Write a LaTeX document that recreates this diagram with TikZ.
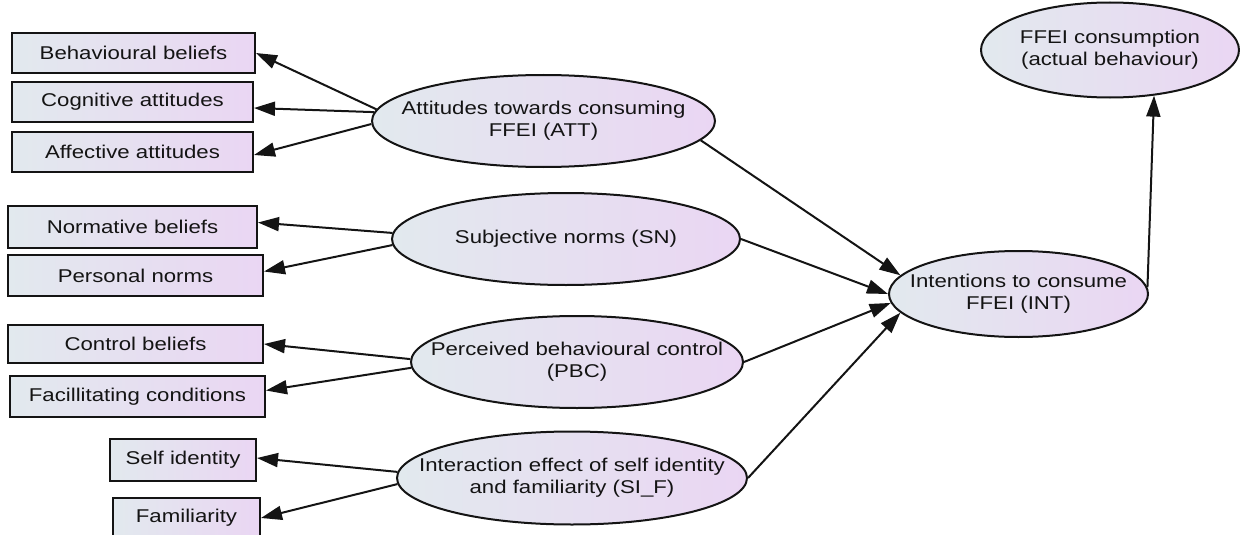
\documentclass[tikz,border=0pt]{standalone}
\usepackage{fontspec}
\setmainfont[FakeStretch=1.2]{Liberation Sans}
\usetikzlibrary{shapes.geometric,arrows.meta}
\definecolor{shadel}{RGB}{226,233,238}
\definecolor{shader}{RGB}{234,214,243}
\definecolor{ink}{RGB}{20,20,20}
\begin{document}
\begin{tikzpicture}[x=1pt,y=-1pt,
  box/.style={draw=ink,line width=2pt,left color=shadel,right color=shader,inner sep=0pt,
    font=\fontsize{18.5}{22}\selectfont,text=ink},
  latent/.style={ellipse,draw=ink,line width=2pt,left color=shadel,right color=shader,inner sep=0pt},
  lbl/.style={align=center,font=\fontsize{18.5}{22}\selectfont,text=ink},
  link/.style={draw=ink,line width=2pt,-{Triangle[length=21pt,width=14pt]}}]
\path[use as bounding box] (0,0) rectangle (1240,535);
\clip (0,0) rectangle (1240,535);
% indicators
\node[box,minimum width=243pt,minimum height=40pt] (bb) at (133.5,53) {Behavioural beliefs};
\node[box,minimum width=241pt,minimum height=40pt] (ca) at (132.5,102) {Cognitive attitudes};
\node[box,minimum width=241pt,minimum height=40pt] (aa) at (132.5,152) {Affective attitudes};
\node[box,minimum width=249pt,minimum height=42pt] (nb) at (132.5,226.5) {Normative beliefs};
\node[box,minimum width=255pt,minimum height=41pt] (pn) at (135.5,275.5) {Personal norms};
\node[box,minimum width=255pt,minimum height=38pt] (cb) at (135.5,344) {Control beliefs};
\node[box,minimum width=255pt,minimum height=41pt] (fc) at (137.5,396.5) {Facillitating conditions};
\node[box,minimum width=146pt,minimum height=42pt] (sid) at (183,460) {Self identity};
\node[box,minimum width=147pt,minimum height=40pt] (fam) at (186.5,518) {Familiarity};
% constructs
\node[latent,minimum width=343pt,minimum height=92pt,
  label={[lbl]center:Attitudes towards consuming\\FFEI (ATT)}] (att) at (543.5,121) {};
\node[latent,minimum width=348pt,minimum height=92pt,
  label={[lbl]center:Subjective norms (SN)}] (sn) at (566,239) {};
\node[latent,minimum width=332pt,minimum height=92pt,
  label={[lbl]center:Perceived behavioural control\\(PBC)}] (pbc) at (577,362) {};
\node[latent,minimum width=350pt,minimum height=93pt,
  label={[lbl]center:Interaction effect of self identity\\and familiarity (SI\_F)}] (sif) at (572,478) {};
\node[latent,minimum width=259pt,minimum height=86pt,
  label={[lbl]center:Intentions to consume\\FFEI (INT)}] (int) at (1018.5,294) {};
\node[latent,minimum width=258pt,minimum height=95pt,
  label={[lbl]center:FFEI consumption\\(actual behaviour)}] (beh) at (1110,50) {};
% paths
\draw[link] (att.176) -- (bb.east);
\draw[link] (att.177.3) -- ([yshift=-6pt]ca.east);
\draw[link] (att.181) -- ([yshift=-3pt]aa.east);
\draw[link] (sn.178.4) -- ([yshift=4pt]nb.east);
\draw[link] (sn.182.3) -- ([yshift=4pt]pn.east);
\draw[link] (pbc.179.6) -- (cb.east);
\draw[link] (pbc.182) -- ([yshift=6pt]fc.east);
\draw[link] (sif.178) -- ([yshift=2pt]sid.east);
\draw[link] (sif.182.3) -- (fam.east);
\draw[link] (att.-7) -- (int.171);
\draw[link] (sn.east) -- (int.180);
\draw[link] (pbc.east) -- (int.184.5);
\draw[link] (sif.east) -- (int.189.8);
\draw[link] (int.3) -- (beh.-46);
\end{tikzpicture}
\end{document}
